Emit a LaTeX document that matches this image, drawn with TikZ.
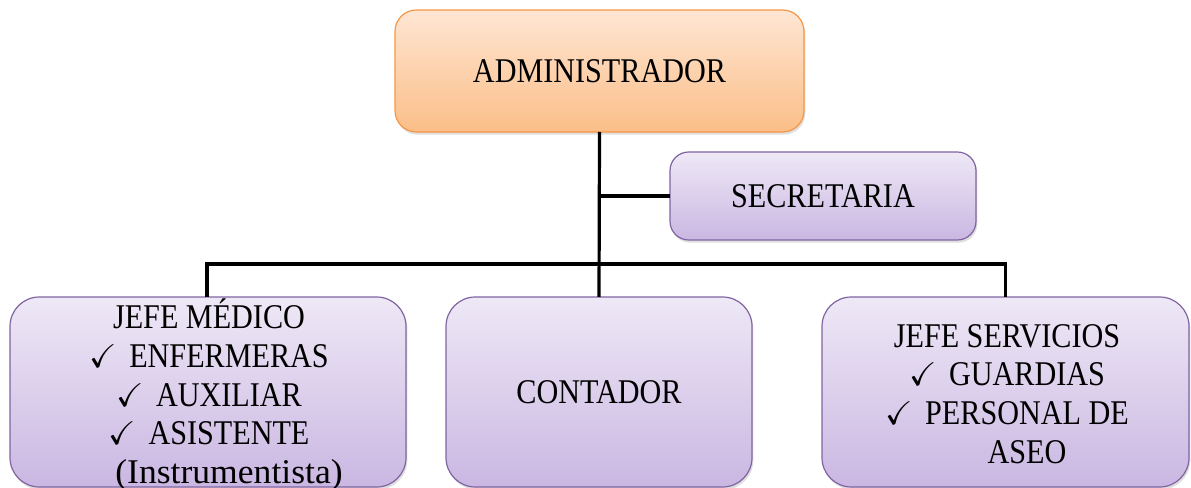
\documentclass[tikz,border=0pt]{standalone}
\usepackage{fontspec}
\usepackage{amssymb}
\setmainfont{Liberation Serif}[FakeStretch=0.87]
\usetikzlibrary{shadows}
\definecolor{orBorder}{HTML}{F79646}
\definecolor{orTop}{HTML}{FEE6D3}
\definecolor{orBot}{HTML}{FBBE88}
\definecolor{puBorder}{HTML}{8064A2}
\definecolor{puTop}{HTML}{EEE8F6}
\definecolor{puBot}{HTML}{CAB7E2}
\newcommand{\chk}{\makebox[30pt][l]{\scalebox{0.95}{$\checkmark$}}}
\tikzset{
  orgbox/.style={draw=puBorder, line width=0.9pt, rounded corners=22pt,
    top color=puTop, bottom color=puBot, inner sep=0pt, outer sep=0pt,
    align=center, font=\fontsize{26}{29}\selectfont,
    drop shadow={opacity=0.25, shadow xshift=1pt, shadow yshift=-2pt}},
  adminbox/.style={orgbox, draw=orBorder, top color=orTop, bottom color=orBot, rounded corners=16pt},
  conn/.style={line width=2.4pt, black}
}
\begin{document}
\begin{tikzpicture}[x=0.75pt, y=-0.75pt]
\useasboundingbox (0,0) rectangle (1191,488);
\node[adminbox, minimum width=306.75pt, minimum height=91.5pt] (admin) at (599.5,71) {ADMINISTRADOR};
\node[orgbox, rounded corners=14pt, minimum width=229.5pt, minimum height=66pt] (sec) at (823,196) {SECRETARIA};
\node[orgbox, minimum width=297pt, minimum height=142.5pt] (jefe) at (208,392) {};
\node[align=center, font=\fontsize{26}{29}\selectfont] (jefetxt) at (209,395) {JEFE MÉDICO\\ \chk ENFERMERAS\\ \chk AUXILIAR\\ \chk ASISTENTE\\ \hspace*{30pt}\scalebox{1.18}[1]{(Instrumentista)}};
\node[orgbox, minimum width=229.5pt, minimum height=142.5pt] (cont) at (599,392) {CONTADOR};
\node[orgbox, minimum width=275.25pt, minimum height=142.5pt] (serv) at (1005.5,392) {};
\node[align=center, font=\fontsize{26}{29}\selectfont] (servtxt) at (1007,394) {JEFE SERVICIOS\\ \chk GUARDIAS\\ \chk PERSONAL DE\\ \hspace*{30pt}ASEO};
\coordinate (busL) at (207,264);
\draw[conn] (admin.south) -- (cont.north);
\draw[conn] (admin.south |- sec.west) -- (sec.west);
\draw[conn] (jefe.north -| busL) -- (busL) -- (busL -| serv.north) -- (serv.north);
\end{tikzpicture}
\end{document}
